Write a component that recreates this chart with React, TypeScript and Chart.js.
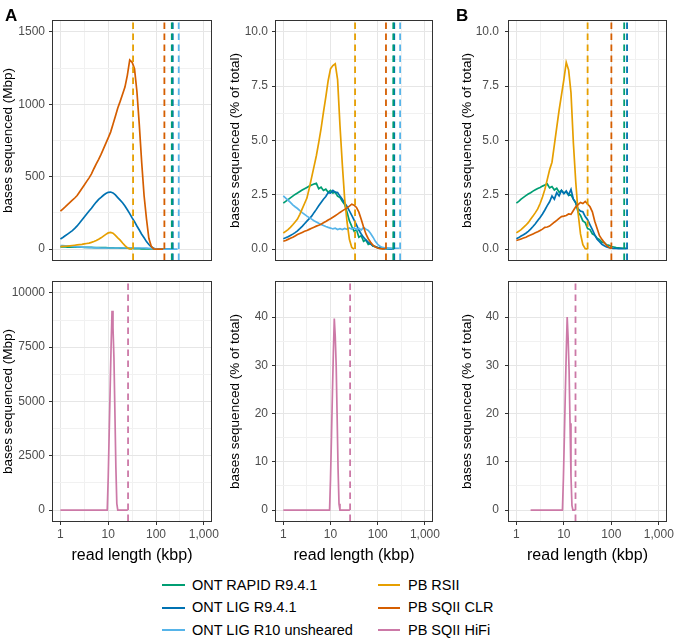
import React, { useEffect, useRef } from "react";
import { Chart, registerables } from "chart.js";

Chart.register(...registerables);

const FONT = "'Liberation Sans', Arial, Helvetica, sans-serif";
Chart.defaults.font.family = FONT;

// ---------------- series identity ----------------
const SERIES_NAMES = [
  "ONT RAPID R9.4.1",
  "ONT LIG R9.4.1",
  "ONT LIG R10 unsheared",
  "PB RSII",
  "PB SQII CLR",
  "PB SQII HiFi",
];
const SERIES_COLORS = ["#009E73", "#0072B2", "#56B4E9", "#E69F00", "#D55E00", "#CC79A7"];
// draw order (lower number is drawn on top)
const SERIES_ORDER = [5, 4, 3, 2, 1, 1];

// ---------------- x positions (log10 of read length in kbp) ----------------
const LOG_X = [
  0, 0.05, 0.1, 0.15, 0.2, 0.25, 0.3, 0.35, 0.4, 0.45, 0.5, 0.55, 0.6, 0.65, 0.7, 0.75, 0.8, 0.85,
  0.9, 0.95, 1.0, 1.05, 1.1, 1.15, 1.2, 1.25, 1.3, 1.35, 1.4, 1.45, 1.5, 1.55, 1.6, 1.65, 1.7,
  1.75, 1.8, 1.85, 1.9, 1.95, 2.0, 2.05, 2.1, 2.15, 2.2, 2.25, 2.3, 2.35, 2.4, 2.45,
];
const HIFI_LOG_X_A = [0, 0.3, 0.6, 0.9, 0.98, 1.0, 1.02, 1.04, 1.06, 1.08, 1.1, 1.12, 1.14, 1.16, 1.18, 1.2, 1.3, 1.41];
const HIFI_LOG_X_B = [0.3, 0.6, 0.9, 0.97, 0.99, 1.01, 1.03, 1.05, 1.07, 1.09, 1.11, 1.13, 1.15, 1.17, 1.19, 1.245];

// ---------------- Panel A, top-left: bases sequenced (Mbp) ----------------
const A_MBP_RAPID = [15, 15, 15, 14, 14, 14, 14, 13, 13, 13, 12, 12, 12, 12, 11, 11, 11, 10, 10, 10, 9, 9, 9, 8, 8, 7, 7, 6, 6, 5, 5, 4, 3, 3, 2, 2, 2, 1, 1, 1, 1, 1, 1, 0, 0, 0, 0];
const A_MBP_LIG = [70, 80, 92, 104, 116, 128, 143, 160, 180, 201, 222, 243, 263, 282, 305, 325, 343, 357, 372, 384, 392, 394, 388, 374, 356, 338, 320, 298, 272, 245, 216, 190, 160, 132, 103, 78, 52, 32, 16, 5, 1, 0, 0, 0, 0, 0, 0, 0];
const A_MBP_R10 = [25, 24, 23, 22, 20, 19, 18, 16, 15, 14, 13, 12, 11, 10, 10, 9, 9, 8, 8, 8, 8, 8, 8, 8, 8, 8, 8, 8, 8, 8, 8, 8, 8, 8, 8, 8, 7, 6, 4, 3, 2, 1, 1, 0, 0, 0, 0, 0, 0, 0];
const A_MBP_RSII = [18, 19, 20, 21, 23, 25, 27, 29, 31, 33, 36, 39, 42, 47, 53, 60, 68, 78, 90, 102, 112, 116, 110, 95, 78, 62, 42, 24, 10, 2, 0];
const A_MBP_CLR = [262, 277, 292, 308, 323, 338, 353, 370, 395, 419, 443, 468, 492, 520, 555, 588, 620, 654, 692, 730, 768, 808, 862, 918, 975, 1020, 1070, 1119, 1200, 1306, 1290, 1245, 1090, 860, 600, 370, 210, 75, 20, 2, 0, 0, 0, 0];

// ---------------- Panel A, top-middle: % of total ----------------
const A_PCT_RAPID = [2.12, 2.2, 2.28, 2.36, 2.44, 2.52, 2.58, 2.65, 2.72, 2.78, 2.84, 2.9, 2.95, 3.0, 3.03, 2.78, 2.85, 2.7, 2.76, 2.62, 2.7, 2.58, 2.62, 2.44, 2.38, 2.2, 2.05, 1.7, 1.3, 1.05, 0.82, 0.9, 0.55, 0.62, 0.36, 0.42, 0.22, 0.26, 0.14, 0.12, 0.06, 0.07, 0.03, 0.03, 0.02, 0.02, 0.02];
const A_PCT_LIG = [0.48, 0.52, 0.57, 0.63, 0.69, 0.76, 0.84, 0.94, 1.05, 1.17, 1.29, 1.4, 1.52, 1.68, 1.83, 2.0, 2.15, 2.3, 2.42, 2.6, 2.58, 2.7, 2.62, 2.6, 2.44, 2.3, 2.12, 1.96, 1.76, 1.55, 1.33, 1.12, 0.88, 0.7, 0.54, 0.42, 0.32, 0.23, 0.16, 0.11, 0.07, 0.05, 0.03, 0.02, 0.02, 0.01, 0.01, 0.01];
const A_PCT_R10 = [2.45, 2.35, 2.25, 2.15, 2.04, 1.95, 1.87, 1.77, 1.68, 1.6, 1.52, 1.45, 1.38, 1.31, 1.25, 1.19, 1.14, 1.09, 1.04, 1.0, 0.97, 0.93, 0.96, 0.9, 0.94, 0.9, 0.95, 0.91, 0.97, 0.92, 0.98, 0.9, 0.96, 0.88, 1.0, 0.92, 0.86, 0.72, 0.55, 0.36, 0.22, 0.13, 0.08, 0.06, 0.05, 0.05, 0.04, 0.04, 0.04, 0.04];
const A_PCT_RSII = [0.74, 0.82, 0.9, 1.0, 1.12, 1.25, 1.38, 1.6, 1.85, 2.1, 2.35, 2.8, 3.3, 3.8, 4.3, 4.9, 5.55, 6.3, 7.0, 7.75, 8.3, 8.45, 8.53, 7.8, 5.7, 3.9, 2.3, 1.25, 0.45, 0.08, 0];
const A_PCT_CLR = [0.36, 0.4, 0.45, 0.5, 0.55, 0.61, 0.67, 0.72, 0.77, 0.82, 0.86, 0.91, 0.96, 1.01, 1.06, 1.1, 1.15, 1.21, 1.27, 1.34, 1.4, 1.47, 1.54, 1.61, 1.69, 1.76, 1.83, 1.9, 1.98, 2.07, 2.02, 1.92, 1.7, 1.38, 1.02, 0.7, 0.48, 0.32, 0.18, 0.1, 0.05, 0.02, 0.01, 0.01];

// ---------------- Panel B, top: % of total ----------------
const B_PCT_RAPID = [2.12, 2.2, 2.3, 2.38, 2.46, 2.54, 2.6, 2.67, 2.73, 2.79, 2.84, 2.9, 2.95, 3.0, 2.82, 2.88, 2.72, 2.8, 2.62, 2.7, 2.58, 2.64, 2.48, 2.5, 2.3, 2.12, 1.7, 1.55, 1.3, 1.22, 0.95, 0.9, 0.7, 0.64, 0.5, 0.44, 0.32, 0.3, 0.2, 0.18, 0.12, 0.1, 0.07, 0.06, 0.05, 0.04, 0.05];
const B_PCT_LIG = [0.48, 0.53, 0.6, 0.66, 0.73, 0.82, 0.92, 1.04, 1.17, 1.32, 1.46, 1.62, 1.8, 2.0, 2.18, 2.45, 2.3, 2.6, 2.45, 2.7, 2.55, 2.68, 2.5, 2.75, 2.3, 2.15, 1.85, 1.75, 1.72, 1.5, 1.35, 1.12, 0.9, 0.66, 0.45, 0.34, 0.22, 0.16, 0.1, 0.07, 0.05, 0.03, 0.03, 0.02, 0.02, 0.02, 0.02, 0.03];
const B_PCT_RSII = [0.75, 0.82, 0.9, 1.0, 1.1, 1.22, 1.38, 1.52, 1.68, 1.85, 2.1, 2.4, 2.75, 3.2, 3.65, 4.0, 4.8, 5.6, 6.4, 7.1, 7.8, 8.6, 8.25, 7.2, 4.9, 3.1, 1.65, 0.7, 0.2, 0.02, 0];
const B_PCT_CLR = [0.4, 0.43, 0.47, 0.51, 0.55, 0.6, 0.65, 0.7, 0.75, 0.8, 0.86, 0.92, 1.0, 1.02, 1.06, 1.15, 1.24, 1.32, 1.42, 1.5, 1.52, 1.55, 1.62, 1.6, 1.78, 1.95, 2.05, 2.15, 2.1, 2.2, 2.08, 1.95, 1.72, 1.28, 0.95, 0.62, 0.45, 0.3, 0.17, 0.08, 0.03];

// ---------------- HiFi (bottom row) ----------------
const A_MBP_HIFI = [0, 0, 0, 0, 0, 1500, 3500, 5500, 7500, 9180, 8400, 7000, 4500, 2000, 300, 0, 0, 0];
const A_PCT_HIFI = [0, 0, 0, 0, 0, 6.5, 15, 24, 32.5, 39.7, 36, 30, 19.5, 8.5, 1.3, 0, 0, 0];
const B_PCT_HIFI = [0, 0, 0, 0, 6.5, 15, 24, 32.5, 40, 35.5, 29, 18, 7, 1, 0, 0];

// ---------------- dashed vertical lines (log10 kbp) ----------------
const A_VLINES = [2.33, 2.35, 2.475, 1.52, 2.175]; // RAPID, LIG, R10, RSII, CLR
const B_VLINES = [2.27, 2.33, 1.5, 2.0]; // RAPID, LIG, RSII, CLR
const A_HIFI_VLINE = 1.415;
const B_HIFI_VLINE = 1.245;

// ---------------- axes ----------------
const X_MIN_LOG = -0.15;
const X_MAX_LOG = 3.15;
const X_MAJOR = [1, 10, 100, 1000];
const X_MINOR_LOG = [0.5, 1.5, 2.5];
const X_LABELS = ["1", "10", "100", "1,000"];

const Y_MBP_TOP_MAJOR = [0, 500, 1000, 1500];
const Y_MBP_TOP_MINOR = [250, 750, 1250];
const Y_PCT_TOP_MAJOR = [0, 2.5, 5, 7.5, 10];
const Y_PCT_TOP_MINOR = [1.25, 3.75, 6.25, 8.75];
const Y_MBP_HIFI_MAJOR = [0, 2500, 5000, 7500, 10000];
const Y_MBP_HIFI_MINOR = [1250, 3750, 6250, 8750];
const Y_PCT_HIFI_MAJOR = [0, 10, 20, 30, 40];
const Y_PCT_HIFI_MINOR = [5, 15, 25, 35, 45];

type Line = { idx: number; logX: number[]; y: number[] };
type VLine = { idx: number; logX: number };

interface PanelSpec {
  key: string;
  left: number;
  top: number;
  width: number;
  height: number;
  pad: { left: number; top: number; right: number; bottom: number };
  yWidth: number;
  xHeight: number;
  showX: boolean;
  yMin: number;
  yMax: number;
  yMajor: number[];
  yMinor: number[];
  yFmt: (v: number) => string;
  yTitle: string;
  yTitlePad: number;
  yTickPad: number;
  lines: Line[];
  vlines: VLine[];
}

const fmtInt = (v: number) => String(v);
const fmt1 = (v: number) => v.toFixed(1);

const TOP_PAD = { top: 21, bottom: 16 };
const TOP_H = 276;
const BOT_PAD = { top: 16, bottom: 5 };
const BOT_TOP = 266;
const BOT_H = 304;

const PANELS: PanelSpec[] = [
  {
    key: "a-mbp",
    left: 0, top: 0, width: 222, height: TOP_H,
    pad: { left: 0, top: TOP_PAD.top, right: 11, bottom: TOP_PAD.bottom },
    yWidth: 53, xHeight: 0, showX: false,
    yMin: -75, yMax: 1575, yMajor: Y_MBP_TOP_MAJOR, yMinor: Y_MBP_TOP_MINOR, yFmt: fmtInt,
    yTitle: "bases sequenced (Mbp)", yTitlePad: 0, yTickPad: 4,
    lines: [
      { idx: 0, logX: LOG_X, y: A_MBP_RAPID },
      { idx: 1, logX: LOG_X, y: A_MBP_LIG },
      { idx: 2, logX: LOG_X, y: A_MBP_R10 },
      { idx: 3, logX: LOG_X, y: A_MBP_RSII },
      { idx: 4, logX: LOG_X, y: A_MBP_CLR },
    ],
    vlines: A_VLINES.map((v, i) => ({ idx: [0, 1, 2, 3, 4][i], logX: v })),
  },
  {
    key: "a-pct",
    left: 222, top: 0, width: 226, height: TOP_H,
    pad: { left: 0, top: TOP_PAD.top, right: 16, bottom: TOP_PAD.bottom },
    yWidth: 54, xHeight: 0, showX: false,
    yMin: -0.5, yMax: 10.5, yMajor: Y_PCT_TOP_MAJOR, yMinor: Y_PCT_TOP_MINOR, yFmt: fmt1,
    yTitle: "bases sequenced (% of total)", yTitlePad: 5, yTickPad: 4,
    lines: [
      { idx: 0, logX: LOG_X, y: A_PCT_RAPID },
      { idx: 1, logX: LOG_X, y: A_PCT_LIG },
      { idx: 2, logX: LOG_X, y: A_PCT_R10 },
      { idx: 3, logX: LOG_X, y: A_PCT_RSII },
      { idx: 4, logX: LOG_X, y: A_PCT_CLR },
    ],
    vlines: A_VLINES.map((v, i) => ({ idx: [0, 1, 2, 3, 4][i], logX: v })),
  },
  {
    key: "b-pct",
    left: 448, top: 0, width: 230, height: TOP_H,
    pad: { left: 0, top: TOP_PAD.top, right: 12, bottom: TOP_PAD.bottom },
    yWidth: 61, xHeight: 0, showX: false,
    yMin: -0.5, yMax: 10.5, yMajor: Y_PCT_TOP_MAJOR, yMinor: Y_PCT_TOP_MINOR, yFmt: fmt1,
    yTitle: "bases sequenced (% of total)", yTitlePad: 11, yTickPad: 6,
    lines: [
      { idx: 0, logX: LOG_X, y: B_PCT_RAPID },
      { idx: 1, logX: LOG_X, y: B_PCT_LIG },
      { idx: 3, logX: LOG_X, y: B_PCT_RSII },
      { idx: 4, logX: LOG_X, y: B_PCT_CLR },
    ],
    vlines: B_VLINES.map((v, i) => ({ idx: [0, 1, 3, 4][i], logX: v })),
  },
  {
    key: "a-mbp-hifi",
    left: 0, top: BOT_TOP, width: 222, height: BOT_H,
    pad: { left: 0, top: BOT_PAD.top, right: 11, bottom: BOT_PAD.bottom },
    yWidth: 53, xHeight: 44, showX: true,
    yMin: -500, yMax: 10500, yMajor: Y_MBP_HIFI_MAJOR, yMinor: Y_MBP_HIFI_MINOR, yFmt: fmtInt,
    yTitle: "bases sequenced (Mbp)", yTitlePad: 0, yTickPad: 4,
    lines: [{ idx: 5, logX: HIFI_LOG_X_A, y: A_MBP_HIFI }],
    vlines: [{ idx: 5, logX: A_HIFI_VLINE }],
  },
  {
    key: "a-pct-hifi",
    left: 222, top: BOT_TOP, width: 226, height: BOT_H,
    pad: { left: 0, top: BOT_PAD.top, right: 16, bottom: BOT_PAD.bottom },
    yWidth: 54, xHeight: 44, showX: true,
    yMin: -2.25, yMax: 47.25, yMajor: Y_PCT_HIFI_MAJOR, yMinor: Y_PCT_HIFI_MINOR, yFmt: fmtInt,
    yTitle: "bases sequenced (% of total)", yTitlePad: 5, yTickPad: 4,
    lines: [{ idx: 5, logX: HIFI_LOG_X_A, y: A_PCT_HIFI }],
    vlines: [{ idx: 5, logX: A_HIFI_VLINE }],
  },
  {
    key: "b-pct-hifi",
    left: 448, top: BOT_TOP, width: 230, height: BOT_H,
    pad: { left: 0, top: BOT_PAD.top, right: 12, bottom: BOT_PAD.bottom },
    yWidth: 61, xHeight: 44, showX: true,
    yMin: -2.25, yMax: 47.25, yMajor: Y_PCT_HIFI_MAJOR, yMinor: Y_PCT_HIFI_MINOR, yFmt: fmtInt,
    yTitle: "bases sequenced (% of total)", yTitlePad: 11, yTickPad: 6,
    lines: [{ idx: 5, logX: HIFI_LOG_X_B, y: B_PCT_HIFI }],
    vlines: [{ idx: 5, logX: B_HIFI_VLINE }],
  },
];

const GRID_MAJOR = "#E6E6E6";
const GRID_MINOR = "#F1F1F1";
const TICK_COLOR = "#333333";
const TICK_TEXT = "#4D4D4D";

const borderPlugin = {
  id: "panelBorder",
  afterDatasetsDraw(chart: any) {
    const { ctx, chartArea } = chart;
    const { left, top, right, bottom } = chartArea;
    ctx.save();
    ctx.strokeStyle = "#333333";
    ctx.lineWidth = 1;
    ctx.strokeRect(Math.round(left) - 0.5, Math.round(top) - 0.5, Math.round(right - left) + 1, Math.round(bottom - top) + 1);
    ctx.restore();
  },
};

function Panel({ spec }: { spec: PanelSpec }) {
  const ref = useRef<HTMLCanvasElement>(null);
  useEffect(() => {
    const canvas = ref.current;
    if (!canvas) return;
    const xMinorVals = X_MINOR_LOG.map((l) => Math.pow(10, l));
    const xTickVals = [...X_MAJOR, ...xMinorVals].sort((a, b) => a - b);
    const yTickVals = [...spec.yMajor, ...spec.yMinor].sort((a, b) => a - b);
    const isXMajor = (v: number) => X_MAJOR.indexOf(v) >= 0;
    const isYMajor = (v: number) => spec.yMajor.indexOf(v) >= 0;

    const datasets: any[] = [];
    for (const l of spec.lines) {
      datasets.push({
        data: l.y.map((y, j) => ({ x: Math.pow(10, l.logX[j]), y })),
        borderColor: SERIES_COLORS[l.idx],
        borderWidth: 1.7,
        pointRadius: 0,
        tension: 0,
        fill: false,
        order: SERIES_ORDER[l.idx],
      });
    }
    for (const v of spec.vlines) {
      const x = Math.pow(10, v.logX);
      datasets.push({
        data: [
          { x, y: spec.yMin },
          { x, y: spec.yMax },
        ],
        borderColor: SERIES_COLORS[v.idx],
        borderWidth: 1.8,
        borderDash: [6.5, 4.5],
        pointRadius: 0,
        tension: 0,
        fill: false,
        order: 0,
      });
    }

    const chart = new Chart(canvas, {
      type: "line",
      data: { datasets },
      options: {
        responsive: false,
        animation: false,
        devicePixelRatio: 1,
        events: [],
        layout: { padding: spec.pad },
        plugins: {
          legend: { display: false },
          tooltip: { enabled: false },
          title: { display: false },
        },
        scales: {
          x: {
            type: "logarithmic",
            min: Math.pow(10, X_MIN_LOG),
            max: Math.pow(10, X_MAX_LOG),
            afterBuildTicks: (s: any) => {
              s.ticks = xTickVals.map((value) => ({ value }));
            },
            afterFit: (s: any) => {
              s.height = spec.xHeight;
            },
            border: { display: false },
            grid: {
              color: (c: any) => (c.tick && isXMajor(c.tick.value) ? GRID_MAJOR : GRID_MINOR),
              lineWidth: 1,
              drawTicks: spec.showX,
              tickLength: 4,
              tickWidth: 1,
              tickColor: (c: any) => (c.tick && isXMajor(c.tick.value) ? TICK_COLOR : "rgba(0,0,0,0)"),
            },
            ticks: {
              display: spec.showX,
              autoSkip: false,
              maxRotation: 0,
              minRotation: 0,
              padding: 2,
              color: TICK_TEXT,
              font: { family: FONT, size: 12 },
              callback: (value: any) => {
                const i = X_MAJOR.indexOf(Number(value));
                return i >= 0 ? X_LABELS[i] : "";
              },
            },
            title: {
              display: spec.showX,
              text: "read length (kbp)",
              color: "#000000",
              font: { family: FONT, size: 16 },
              padding: 0,
            },
          },
          y: {
            type: "linear",
            min: spec.yMin,
            max: spec.yMax,
            afterBuildTicks: (s: any) => {
              s.ticks = yTickVals.map((value) => ({ value }));
            },
            afterFit: (s: any) => {
              s.width = spec.yWidth;
            },
            border: { display: false },
            grid: {
              color: (c: any) => (c.tick && isYMajor(c.tick.value) ? GRID_MAJOR : GRID_MINOR),
              lineWidth: 1,
              drawTicks: true,
              tickLength: 4,
              tickWidth: 1,
              tickColor: (c: any) => (c.tick && isYMajor(c.tick.value) ? TICK_COLOR : "rgba(0,0,0,0)"),
            },
            ticks: {
              autoSkip: false,
              padding: spec.yTickPad,
              color: TICK_TEXT,
              font: { family: FONT, size: 12 },
              callback: (value: any) => (isYMajor(Number(value)) ? spec.yFmt(Number(value)) : ""),
            },
            title: {
              display: true,
              text: spec.yTitle,
              color: "#000000",
              font: { family: FONT, size: 13.5 },
              padding: { top: spec.yTitlePad, bottom: 0 },
            },
          },
        },
      } as any,
      plugins: [borderPlugin],
    });
    return () => chart.destroy();
  }, [spec]);

  return (
    <canvas
      ref={ref}
      width={spec.width}
      height={spec.height}
      style={{ position: "absolute", left: spec.left, top: spec.top, width: spec.width, height: spec.height }}
    />
  );
}

const LEGEND_COLUMNS = [
  { swatchLeft: 162, swatchWidth: 23, textLeft: 192, items: [0, 1, 2] },
  { swatchLeft: 378, swatchWidth: 22, textLeft: 408, items: [3, 4, 5] },
];
const LEGEND_ROW_CENTERS = [585, 607.5, 630];

export default function App() {
  return (
    <div
      style={{
        position: "absolute",
        left: 0,
        top: 0,
        width: 678,
        height: 639,
        background: "#ffffff",
        overflow: "hidden",
        fontFamily: FONT,
      }}
    >
      {PANELS.map((p) => (
        <Panel key={p.key} spec={p} />
      ))}
      <div style={{ position: "absolute", left: 5, top: 7, fontSize: 17, lineHeight: "17px", fontWeight: 700, color: "#000" }}>A</div>
      <div style={{ position: "absolute", left: 456, top: 7, fontSize: 17, lineHeight: "17px", fontWeight: 700, color: "#000" }}>B</div>
      {LEGEND_COLUMNS.map((col, ci) =>
        col.items.map((idx, ri) => (
          <React.Fragment key={`lg-${ci}-${ri}`}>
            <div
              style={{
                position: "absolute",
                left: col.swatchLeft,
                top: LEGEND_ROW_CENTERS[ri] - 1,
                width: col.swatchWidth,
                height: 2,
                background: SERIES_COLORS[idx],
              }}
            />
            <div
              style={{
                position: "absolute",
                left: col.textLeft,
                top: LEGEND_ROW_CENTERS[ri] - 8.5,
                height: 17,
                lineHeight: "17px",
                fontSize: 14.5,
                color: "#000",
                whiteSpace: "nowrap",
              }}
            >
              {SERIES_NAMES[idx]}
            </div>
          </React.Fragment>
        ))
      )}
    </div>
  );
}
